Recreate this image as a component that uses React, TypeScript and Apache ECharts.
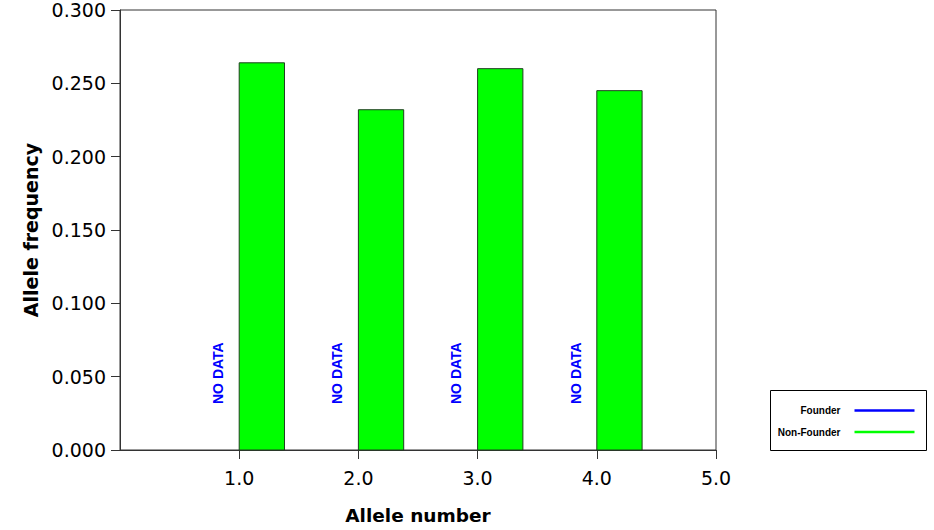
import React, { useEffect, useRef } from "react";
import * as echarts from "echarts";

const alleles = [1, 2, 3, 4];
const founder: (number | null)[] = [null, null, null, null];
const nonFounder = [0.264, 0.232, 0.26, 0.245];
const xTicks = [1, 2, 3, 4, 5];
const seriesNames = ["Founder", "Non-Founder"];
const seriesColors = ["#0000ff", "#00ff00"];
const noDataText = "NO DATA";

const BAR_W = 0.38;
const FONT = "'Liberation Sans', Arial, sans-serif";
const AXFONT = "'DejaVu Sans', sans-serif";

export default function App() {
  const ref = useRef<HTMLDivElement>(null);
  useEffect(() => {
    const chart = echarts.init(ref.current!, undefined, { renderer: "svg" });
    chart.setOption({
      animation: false,
      backgroundColor: "#fff",
      grid: {
        left: 120,
        top: 10,
        right: 218,
        bottom: 79,
        show: true,
        borderColor: "#333",
        borderWidth: 1,
      },
      xAxis: {
        type: "value",
        min: 0,
        max: 5,
        interval: 1,
        name: "Allele number",
        nameLocation: "middle",
        nameGap: 56,
        nameTextStyle: { fontFamily: AXFONT, fontWeight: "bold", fontSize: 18.5, color: "#000" },
        axisLine: { show: true, lineStyle: { color: "#333", width: 1 } },
        axisTick: { show: true, length: 9, customValues: xTicks, lineStyle: { color: "#333" } },
        axisLabel: {
          customValues: xTicks,
          margin: 18,
          fontFamily: AXFONT,
          fontSize: 19,
          color: "#000",
          formatter: (v: number) => v.toFixed(1),
        },
        splitLine: { show: false },
      },
      yAxis: {
        type: "value",
        min: 0,
        max: 0.3,
        interval: 0.05,
        name: "Allele frequency",
        nameLocation: "middle",
        nameGap: 80,
        nameTextStyle: { fontFamily: AXFONT, fontWeight: "bold", fontSize: 19, color: "#000" },
        axisLine: { show: true, lineStyle: { color: "#333", width: 1 } },
        axisTick: { show: true, length: 9, lineStyle: { color: "#333" } },
        axisLabel: {
          margin: 14,
          fontFamily: AXFONT,
          fontSize: 19,
          color: "#000",
          formatter: (v: number) => v.toFixed(3),
        },
        splitLine: { show: false },
      },
      series: [
        {
          name: seriesNames[0],
          type: "custom",
          data: alleles.map((a, i) => [a, founder[i] ?? 0]),
          encode: { x: 0, y: 1 },
          renderItem: (params: any, api: any) => {
            const idx = params.dataIndex;
            const x = api.value(0);
            const p = api.coord([x - BAR_W * 0.47, 0]);
            if (founder[idx] == null) {
              return {
                type: "text",
                x: p[0],
                y: p[1] - 46,
                rotation: Math.PI / 2,
                style: {
                  text: noDataText,
                  fill: seriesColors[0],
                  font: `bold 14px ${FONT}`,
                  textAlign: "left",
                  textVerticalAlign: "middle",
                },
              };
            }
            const p1 = api.coord([x, founder[idx]]);
            const p0 = api.coord([x - BAR_W, 0]);
            return {
              type: "rect",
              shape: { x: p0[0], y: p1[1], width: p1[0] - p0[0], height: p0[1] - p1[1] },
              style: { fill: seriesColors[0], stroke: "#1a1a1a", lineWidth: 1 },
            };
          },
        },
        {
          name: seriesNames[1],
          type: "custom",
          data: alleles.map((a, i) => [a, nonFounder[i]]),
          encode: { x: 0, y: 1 },
          renderItem: (params: any, api: any) => {
            const x = api.value(0);
            const y = api.value(1);
            const p0 = api.coord([x, 0]);
            const p1 = api.coord([x + BAR_W, y]);
            return {
              type: "rect",
              shape: { x: p0[0], y: p1[1], width: p1[0] - p0[0], height: p0[1] - p1[1] },
              style: { fill: seriesColors[1], stroke: "#1f3f1f", lineWidth: 1 },
            };
          },
        },
      ],
      graphic: [
        {
          type: "group",
          left: 770,
          top: 390,
          children: [
            {
              type: "rect",
              shape: { x: 0, y: 0, width: 156, height: 60 },
              style: { fill: "#fff", stroke: "#000", lineWidth: 1 },
            },
            ...seriesNames.flatMap((n, i) => [
              {
                type: "text",
                x: 70,
                y: 20 + i * 21.5,
                style: {
                  text: n,
                  fill: "#000",
                  font: `bold 10px ${FONT}`,
                  textAlign: "right",
                  textVerticalAlign: "middle",
                },
              },
              {
                type: "line",
                shape: { x1: 84, y1: 20 + i * 21.5, x2: 144, y2: 20 + i * 21.5 },
                style: { stroke: seriesColors[i], lineWidth: 2.5 },
              },
            ]),
          ],
        },
      ],
    });
    return () => chart.dispose();
  }, []);
  return (
    <div
      ref={ref}
      style={{ position: "absolute", left: 0, top: 0, width: 934, height: 530 }}
    />
  );
}
